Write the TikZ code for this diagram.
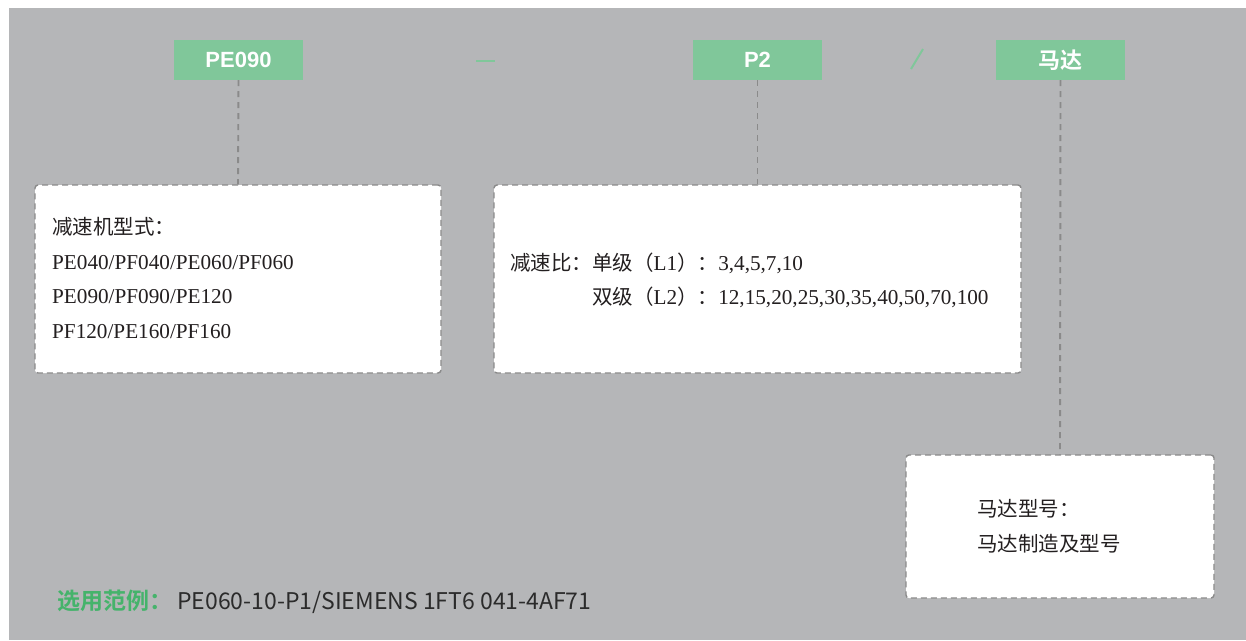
\documentclass[tikz,border=0pt]{standalone}
\usepackage{fontspec}
\setmainfont{Liberation Serif}
\newfontfamily\cjk[Scale=0.967]{Noto Sans CJK SC}
\newfontfamily\cjkf{Noto Sans CJK SC}
\newfontfamily\cjkb{Noto Sans CJK SC Bold}
\newfontfamily\lab{Liberation Sans}
\definecolor{bggray}{HTML}{B5B6B8}
\definecolor{tagg}{HTML}{80C79A}
\definecolor{dgray}{HTML}{8A8A8A}
\definecolor{txt}{HTML}{231F20}
\definecolor{grn}{HTML}{45B36B}
\definecolor{foot}{HTML}{2B2B2B}
\begin{document}
\begin{tikzpicture}[x=1pt,y=-1pt,
  tag/.style={fill=tagg,draw=none,minimum width=129pt,minimum height=40pt,inner sep=0pt,text=white},
  infobox/.style={fill=white,draw=dgray,line width=1.4pt,dash pattern=on 6pt off 4pt,rounded corners=3pt,inner sep=0pt},
  conn/.style={draw=dgray,line width=1.9pt,dash pattern=on 6pt off 5pt},
  btxt/.style={anchor=base west,inner sep=0pt,text=txt,font=\fontsize{21.2}{24}\selectfont},
  sep/.style={draw=tagg,line width=2.5pt}]
\useasboundingbox (0,0) rectangle (1246,640);
\fill[white] (0,0) rectangle (1246,640);
\fill[bggray] (9,8) rectangle (1246,640);
% tags
\node[tag,font=\lab\bfseries\fontsize{22}{24}\selectfont] (t1) at (238.5,60) {PE090};
\node[tag,font=\lab\bfseries\fontsize{22}{24}\selectfont] (t2) at (757.5,60) {P2};
\node[tag,font=\cjkb\fontsize{22}{24}\selectfont] (t3) at (1060.5,60) {马达};
% separators
\coordinate (d1) at (476,61);
\coordinate (d2) at (495,61);
\draw[sep] (d1) -- (d2);
\coordinate (s1) at (911,69);
\coordinate (s2) at (923,49);
\draw[draw=tagg,line width=2pt] (s1) -- (s2);
% boxes
\node[infobox,minimum width=406pt,minimum height=188pt] (b1) at (238,279) {};
\node[infobox,minimum width=527pt,minimum height=188pt] (b2) at (757.5,279) {};
\node[infobox,minimum width=308pt,minimum height=143pt] (b3) at (1060,526.5) {};
% connectors
\draw[conn] (t1.south) -- (b1.north);
\draw[conn] (t2.south) -- (b2.north);
\draw[conn] (t3.south) -- (b3.north);
% box 1 text
\node[btxt] (l11) at (52,234) {\cjk 减速机型式：};
\node[btxt] (l12) at (52,269.5) {PE040/PF040/PE060/PF060};
\node[btxt] (l13) at (52,303.5) {PE090/PF090/PE120};
\node[btxt] (l14) at (52,338) {PF120/PE160/PF160};
% box 2 text
\node[btxt] (l21) at (510,270) {{\cjk 减速比：单级（}L1{\cjk ）：}3,4,5,7,10};
\node[btxt] (l22) at (510,304) {{\cjk\phantom{减速比：}双级（}L2{\cjk ）：}12,15,20,25,30,35,40,50,70,100};
% box 3 text
\node[btxt] (l31) at (977,516) {\cjk 马达型号：};
\node[btxt] (l32) at (977,551) {\cjk 马达制造及型号};
% footer
\node[anchor=base west,inner sep=0pt,font=\cjkf\fontsize{23}{26}\selectfont] (ft) at (57,609)
  {{\cjkb\color{grn}选用范例：}\hspace{5pt}\color{foot}PE060-10-P1/SIEMENS 1FT6 041-4AF71};
\end{tikzpicture}
\end{document}
